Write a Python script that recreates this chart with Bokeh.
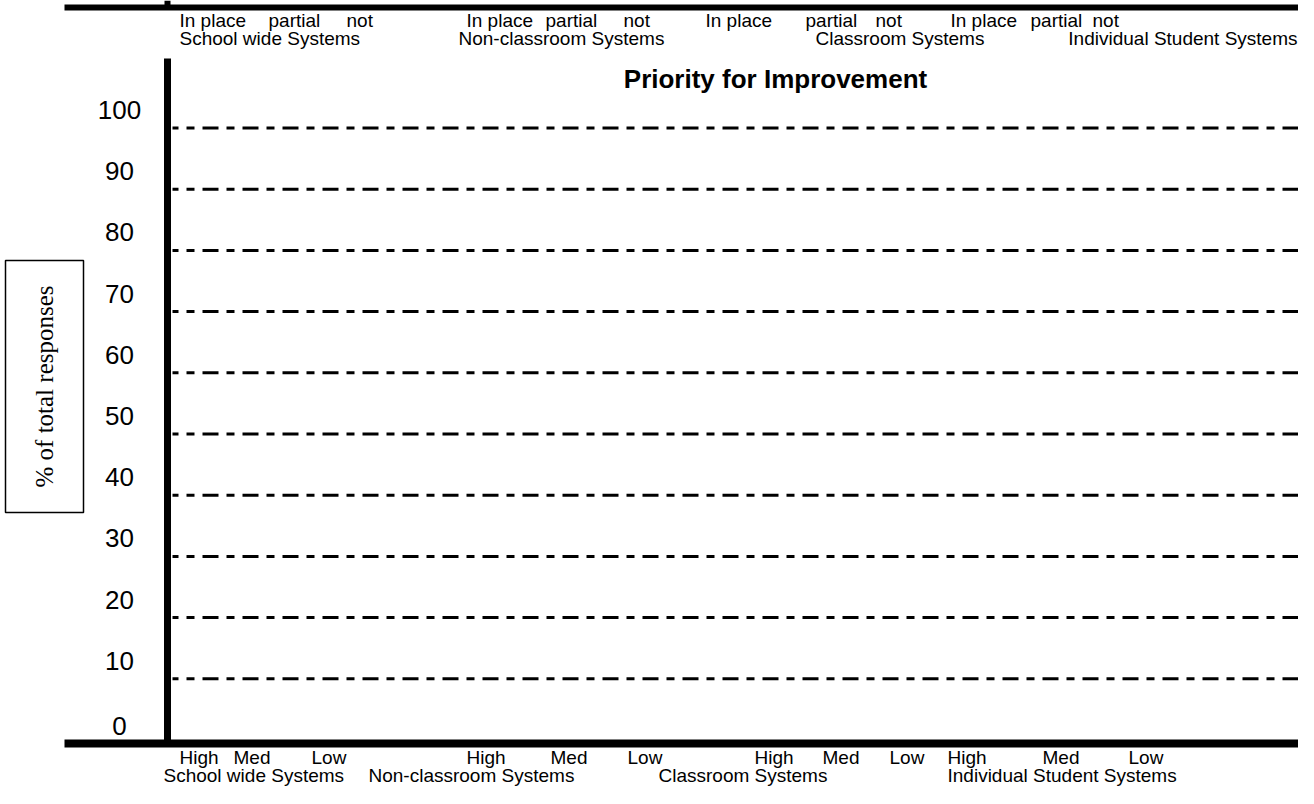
import math
from bokeh.plotting import figure
from bokeh.models import Range1d
from bokeh.core.properties import value
from bokeh.embed import file_html
from bokeh.resources import INLINE

# ---------------- data ----------------
TITLE = "Priority for Improvement"
Y_LABEL = "% of total responses"
Y_TICKS = [0, 10, 20, 30, 40, 50, 60, 70, 80, 90, 100]
STATUS = ["In place", "partial", "not"]
PRIORITY = ["High", "Med", "Low"]
GROUPS_TOP = ["School wide Systems", "Non-classroom Systems",
              "Classroom  Systems", "Individual Student Systems"]
GROUPS_BOTTOM = ["School wide Systems", "Non-classroom Systems",
                 "Classroom  Systems", "Individual Student Systems"]

# ---------------- layout (canvas pixels) ----------------
W, H = 1298, 788
Y_ZERO = 739.5          # canvas y of value 0
PX_PER_UNIT = 6.12      # pixels per y unit


def yv(py):
    return (Y_ZERO - py) / PX_PER_UNIT


SANS = value("Liberation Sans")
SERIF = value("Liberation Serif")
CAT_SIZE = "19px"

p = figure(width=W, height=H, output_backend="svg", toolbar_location=None,
           x_range=Range1d(0, W), y_range=Range1d(yv(H), yv(0)),
           x_axis_location=None, y_axis_location=None, min_border=0)
p.outline_line_color = None
p.grid.visible = False
p.background_fill_color = "white"
p.border_fill_color = "white"

# dashed gridlines at tick values
grid_ticks = [t for t in Y_TICKS if t > 0]
p.segment(x0=172, x1=W, y0=grid_ticks, y1=grid_ticks, line_color="black",
          line_width=3, line_dash="16 8 8 8", line_dash_offset=10)

# axis lines
p.segment(x0=[64], x1=[W], y0=[yv(7)], y1=[yv(7)], line_color="black", line_width=6)
p.segment(x0=[167], x1=[167], y0=[yv(0)], y1=[yv(5)], line_color="black", line_width=6)
p.segment(x0=[64], x1=[W], y0=[yv(743)], y1=[yv(743)], line_color="black",
          line_width=8)
p.segment(x0=[167], x1=[167], y0=[yv(743)], y1=[yv(58)], line_color="black",
          line_width=7)

# y tick labels (sit just above their gridlines)
offs = [-18 if t > 0 else -14 for t in Y_TICKS]
for t, o in zip(Y_TICKS, offs):
    p.text(x=[119], y=[t], text=[str(t)], text_align="center",
           text_baseline="middle", y_offset=o, text_font=SANS,
           text_font_size="26px", text_color="black")

# boxed y label
p.quad(left=[5], right=[83], top=[yv(260)], bottom=[yv(512)],
       fill_color="white", line_color="black", line_width=1.5)
p.text(x=[44], y=[yv(386)], text=[Y_LABEL], angle=math.pi / 2,
       text_align="center", text_baseline="middle", text_font=SERIF,
       text_font_size="25px", text_color="black")

# title
p.text(x=[775], y=[yv(78)], text=[TITLE], text_align="center",
       text_baseline="middle", text_font=SANS, text_font_size="26px",
       text_font_style="bold", text_color="black")

# top labels
TOP_STATUS_X = [[179, 268, 346], [466, 545, 623], [705, 805, 875], [950, 1030, 1092]]
TOP_GROUP_X = [179, 458, 815]
for xs in TOP_STATUS_X:
    p.text(x=xs, y=yv(20), text=STATUS, text_align="left", text_baseline="middle",
           text_font=SANS, text_font_size=CAT_SIZE, text_color="black")
p.text(x=TOP_GROUP_X, y=yv(38), text=GROUPS_TOP[:3], text_align="left",
       text_baseline="middle", text_font=SANS, text_font_size=CAT_SIZE,
       text_color="black")
p.text(x=[W - 1], y=[yv(38)], text=[GROUPS_TOP[3]], text_align="right",
       text_baseline="middle", text_font=SANS, text_font_size=CAT_SIZE,
       text_color="black")

# bottom labels
BOT_PRIO_X = [[179, 233, 311], [466, 550, 627], [754, 822, 889], [947, 1042, 1128]]
BOT_GROUP_X = [163, 368, 658, 947]
for xs in BOT_PRIO_X:
    p.text(x=xs, y=yv(757), text=PRIORITY, text_align="left", text_baseline="middle",
           text_font=SANS, text_font_size=CAT_SIZE, text_color="black")
p.text(x=BOT_GROUP_X, y=yv(775), text=GROUPS_BOTTOM, text_align="left",
       text_baseline="middle", text_font=SANS, text_font_size=CAT_SIZE,
       text_color="black")

open("out.html", "w").write(file_html(p, INLINE))
